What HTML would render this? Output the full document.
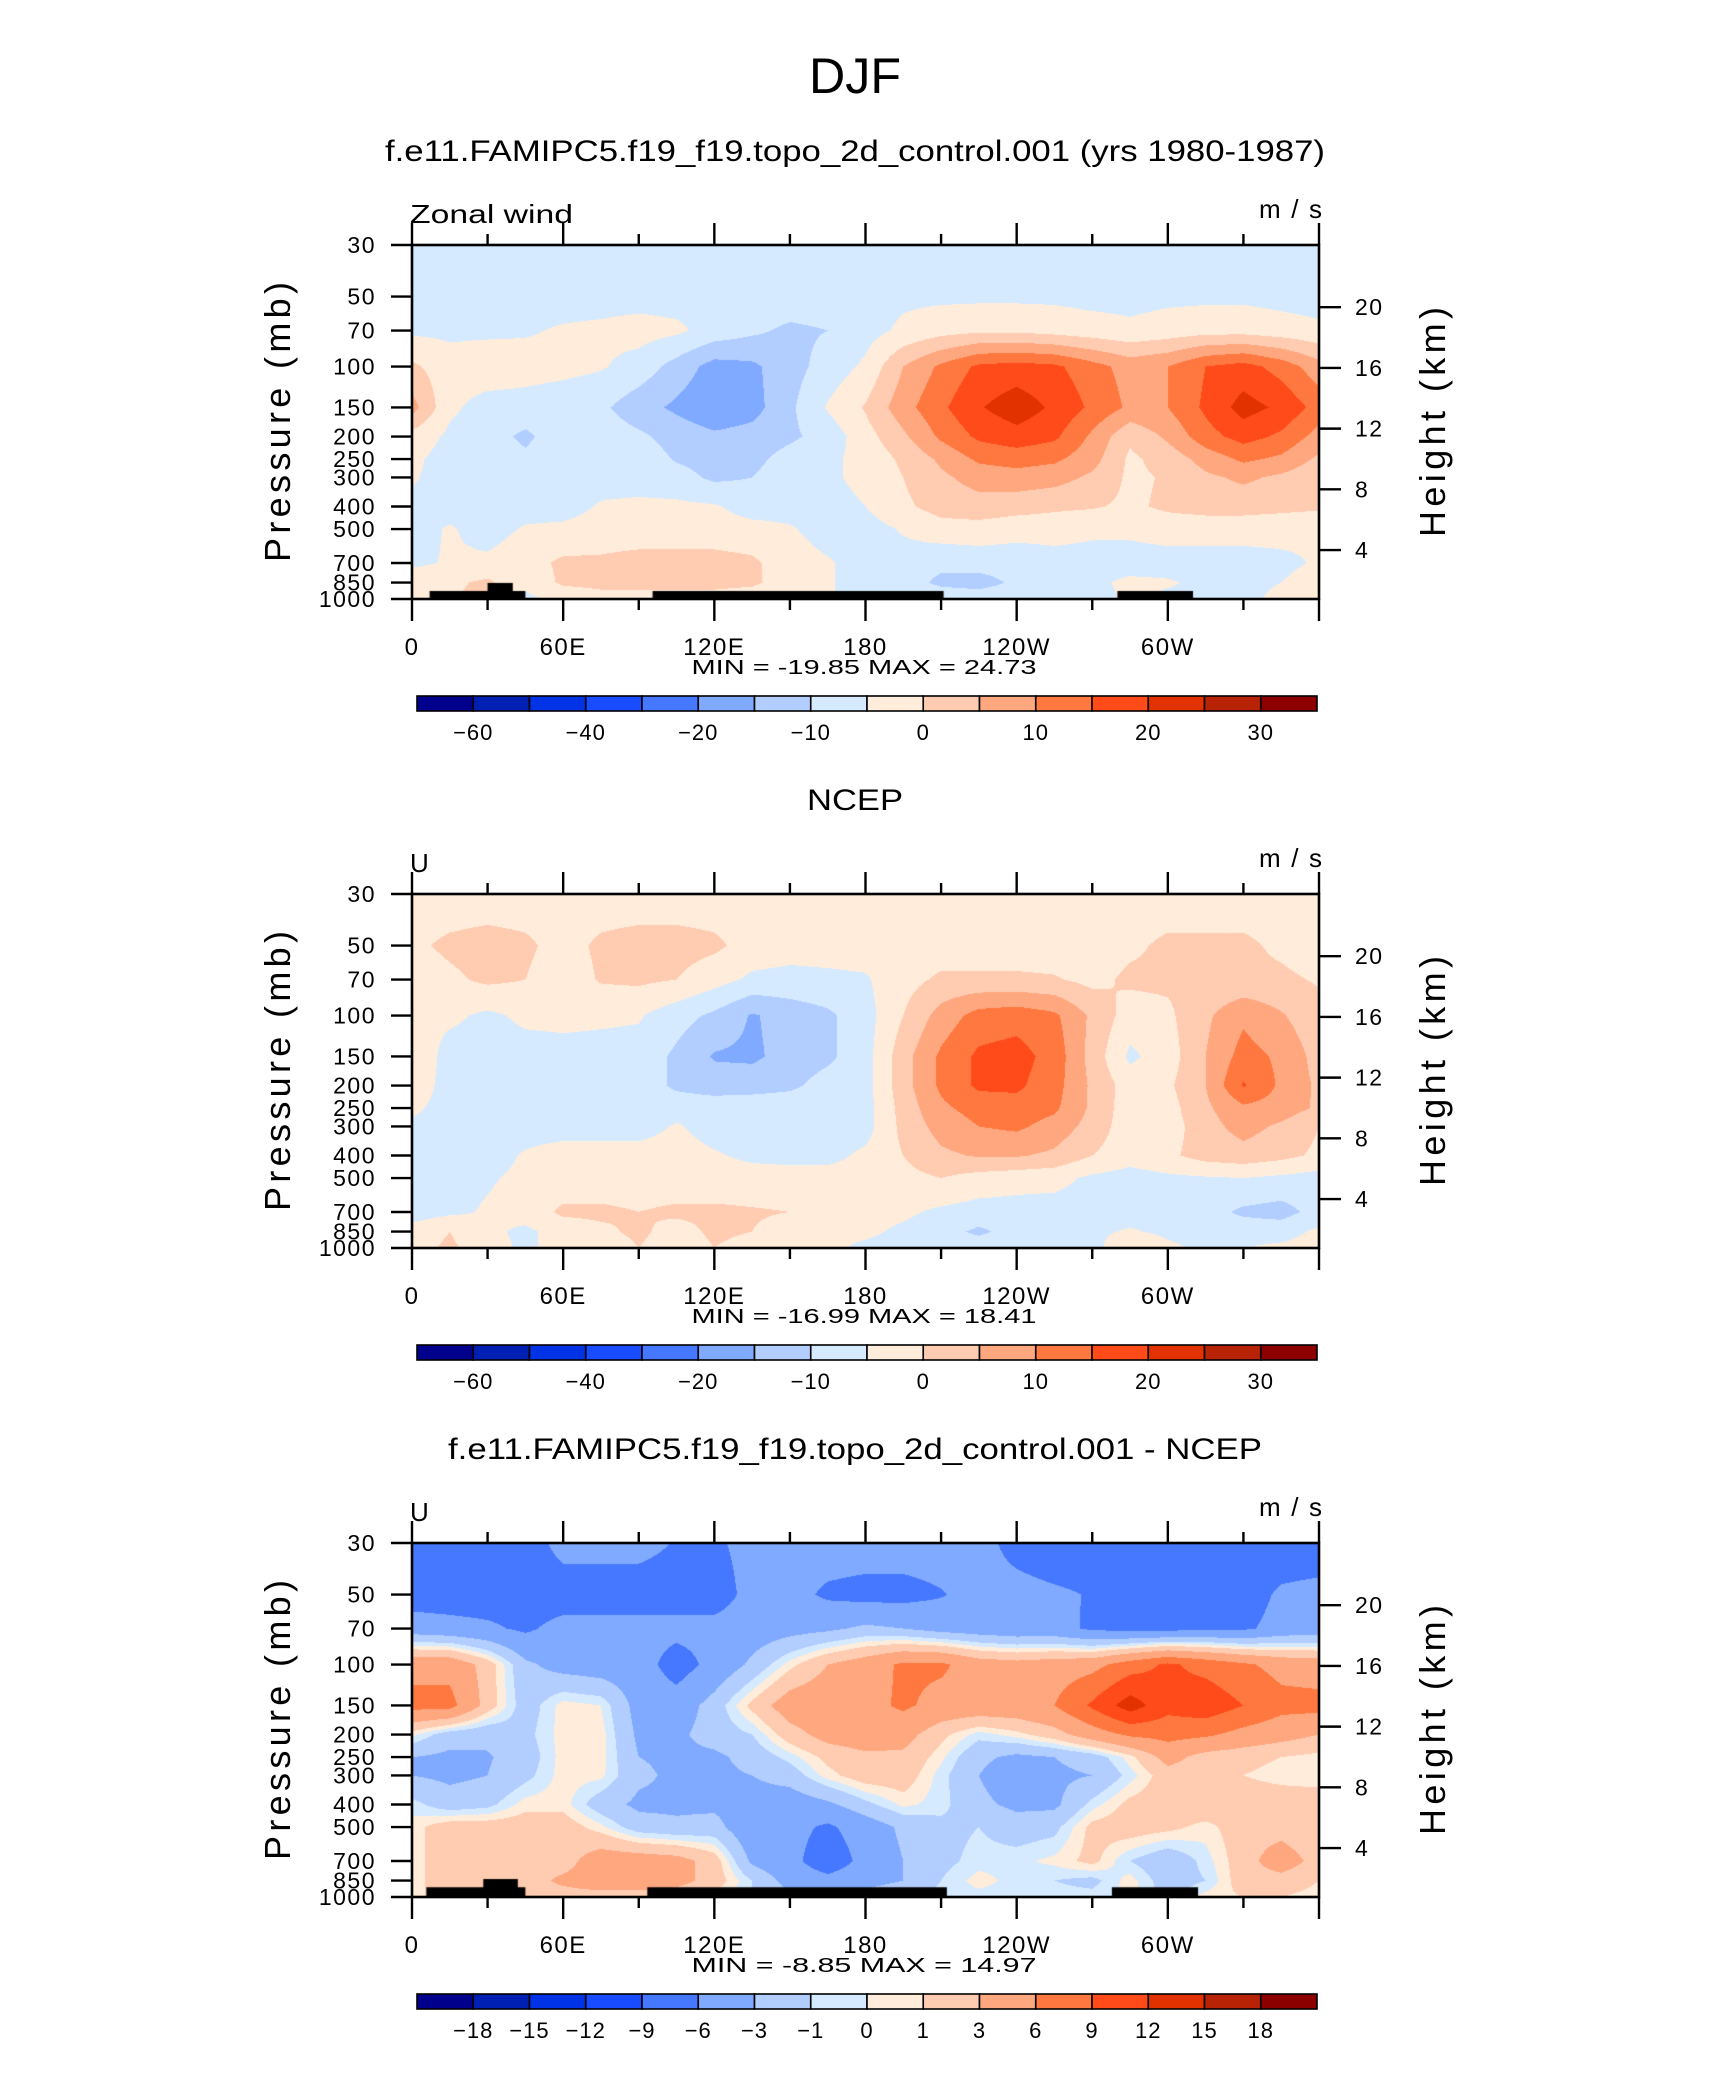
<!DOCTYPE html>
<html><head><meta charset="utf-8">
<style>
html,body{margin:0;padding:0;background:#fff;}
#root{position:relative;width:1710px;height:2074px;overflow:hidden;background:#fff;}
canvas{position:absolute;}
svg{position:absolute;left:0;top:0;}
text{font-family:"Liberation Sans",sans-serif;fill:#000;}
</style></head>
<body>
<div id="root">
<canvas id="c1" width="907" height="354" style="left:412px;top:245px"></canvas>
<canvas id="c2" width="907" height="354" style="left:412px;top:894px"></canvas>
<canvas id="c3" width="907" height="354" style="left:412px;top:1543px"></canvas>
<svg id="ov" width="1710" height="2074" xmlns="http://www.w3.org/2000/svg"></svg>
</div>
<script>
// ---- data ----
const lons = [0,15,30,45,60,75,90,105,120,135,150,165,180,195,210,225,240,255,270,285,300,315,330,345,360];
const levels = [30,50,70,100,150,200,250,300,400,500,700,850,1000];
const pTicks = [30,50,70,100,150,200,250,300,400,500,700,850,1000];
const zTicks = [4,8,12,16,20];
const lonTickLabels = ["0","60E","120E","180","120W","60W"];
const lonTickValues = [0,60,120,180,240,300];
const palette = ["#00008C","#0020B4","#0032E6","#194BFF","#4678FF","#80AAFF","#B2CDFF","#D6EAFF","#FFECDA","#FFCCB2","#FFA880","#FF7840","#FF4B19","#E13200","#B92305","#8C0000"];
const levelsAbs = [-60,-50,-40,-30,-20,-15,-10,-5,0,5,10,15,20,25,30];
const labelsAbs = ["-60","","-40","","-20","","-10","","0","","10","","20","","30"];
const levelsDiff = [-18,-15,-12,-9,-6,-3,-1,0,1,3,6,9,12,15,18];
const labelsDiff = ["-18","-15","-12","-9","-6","-3","-1","0","1","3","6","9","12","15","18"];

const uModel = [
[-2,-2,-2,-2,-2,-2,-2,-2,-2,-2,-2,-2,-2,-2,-2,-2,-2,-2,-2,-2,-2,-2,-2,-2,-2],
[-2,-2,-2,-2,-2,-2,-2,-2,-2,-2,-2,-2,-2,-1,-1,-1,-1,-1,-1.5,-1.5,-1,-1,-1,-1.5,-2],
[-1,-1,-1,-0.5,0.5,1,2,1,-2,-4,-6,-5,-2,1,3,4,4,3,2,1,2,3,3,2,1],
[6,2,3,2,1.5,0.5,-2,-7,-12,-11,-7,-3,1,10,16,21,22,21,17,13,15,20,22,18,12],
[12,1,-2,-2,-3,-4,-8,-11,-14,-12,-6,0.5,5.5,13,19,24.5,28,24,19,14,15,21,27,24,18],
[3,-1,-3,-6,-2,-2,-4,-7,-9,-8,-6,-3,3,9,16,21,23,21,14,6,11,18,22,19,13],
[1,-2,-2,-4,-2,-2,-2,-5.5,-7,-6.5,-3,-1,1.5,6,11,16,17,16,12,4,7,12,16,14,9],
[0.5,-2,-2,-2,-2,-2,-2,-3,-6,-5,-2,-1,1.5,5,9,12,13,12,9,4,5.5,9,11,9,6],
[-1,-2,-2,-2,-2,0.5,1,1,0.5,-2,-2,-2,0,4,7,8,7,6,5.5,4,6,7,7,6.5,6],
[-2,0.5,-2,0.5,1,2,2,2,2,1.5,0.5,-2,-2,0.5,3,3,2,2,1,1,2,2,2,1.5,0.5],
[-1,0.5,1,3,6,6,7,7,7,6,2,0.5,-2,-2,-4,-3,-3,-2,-2,-2,-2,-2,-2,-1,0.5],
[3,4,6,1,6,6.5,6.5,6.5,6.5,6,2,0.5,-2,-3,-6,-7,-4,-2,-1,1,0.5,-1,-1,0,2],
[3,5,6,-1,1,3,3,3,3,2,1,0.5,-2,-2,-2,-2,-2,-2,-2,1,-1,-1,-1,1,3]
];
const uNcep = [
[2,2,2,2,2,2,2,2,2,2,2,2,2,2,2,2,2,2,2,2,2,2,2,2,2],
[4,6,7,6,3,6,7,7,6,3,2,2,2,2,2,2,2,2,2,4,6,6,6,4,2],
[2,4,6,5,2,5.5,6,5,2,-1,-1.5,-1,-0.5,3,6,6,6,5.5,3.5,6,6,6,6,6,4.5],
[1,1,-1,1,1.5,1,0.5,-3,-6,-10.5,-8,-6,-2,5,12,17,18,16,9,2.5,4,9,14,10.5,6.5],
[4,-2,-2,-2,-2,-2,-2,-6,-10.5,-11,-8,-6,-2,8,16,21,22,18,8,-1,2.5,10,17,14,8],
[3,-2,-2,-2,-2,-2,-2,-6,-7.5,-7,-6,-3,-2,8,16,21,21,17,9,2.5,4,10,20.5,14,9],
[1,-2,-2,-2,-2,-2,-2,-2,-2,-2,-2,-2,-2,7,14,17,18,16,9,2,3,9,14,13,9],
[-1,-2,-2,-2,-2,-2,-2,0.5,-2,-2,-2,-2,-2,6.5,12,15,16,13,8,2,2.5,8,12,9,5],
[-1,-2,-2,0.5,2,2,2,2,0.5,-1,-1.5,-1.5,1,5,9,10.5,10.5,9,5,2,4,7,8,6.5,4],
[-2,-1.5,-0.5,1,2,2,2,2,2,2,2,2,2,3.5,5,3,2,1.5,-1,-2,-1,-0.5,0,-1,-2],
[-2.5,-1,0.5,2,6,6,5,6,6,5.5,5,3,2,1,-1,-2,-2,-2,-2,-2,-2,-3,-6,-7,-3],
[2,5,1,-1,2,4,6,3,6,5,3,1,1,-1,-3,-6,-3,-2,-1,0.5,-1,-2,-2,-2,1],
[3,6,2,-1,2,2,5,2,5,3,2,1,-1,-2,-2,-2,-2,-2,-2,5,1,-1,0,1,2]
];
const uDiff = [
[-8,-7,-8,-7.5,-5,-5,-5,-6.2,-6.5,-5,-5,-4.5,-4.5,-4.5,-4.5,-5,-7,-8,-8,-8,-7.5,-7.5,-8,-8,-8],
[-7.5,-7.5,-7.5,-7.5,-7.5,-7.5,-7.5,-7.5,-7.5,-5,-5,-6.5,-7,-7,-6.2,-5,-5,-5.5,-6.2,-8,-8,-8,-7.5,-5.5,-5],
[-4.5,-5,-5.5,-6.5,-5,-5,-5,-5,-5,-4.5,-4,-3.5,-2.5,-3,-4,-4.5,-5,-5,-6.5,-7,-7,-6.5,-6.5,-5,-4.5],
[5,5,2,-2.5,-4,-4.5,-4.5,-7.5,-5,-2.5,0.5,3,4.5,6.5,6.5,4.5,4,4.5,5,7.5,9.5,8,6.5,5,4.5],
[7,7,2,-2,0.5,0,-4,-4.5,-2,1.5,4.5,5,5,6.5,5,5,5,6,9.5,13.5,10,11,9,7,7],
[0.3,-2,-2.5,-1.5,0.5,0.5,-3.5,-3.5,-2,-1,2,4,4.5,4,1.5,-0.5,0.5,2,4.5,6.5,7,6.5,5,4,3],
[-3,-3.5,-3.2,-2,0.5,0.5,-3,-3.5,-3.5,-2.2,-0.5,1.5,2.5,2.5,0.3,-2.5,-3.5,-3,-2,0.5,4,2,1.5,1,0.5],
[-3,-3.5,-3,-1.5,0.5,0.3,-2.5,-3.5,-3.5,-3,-2,0.5,2,2,-0.5,-3,-4.5,-3.5,-3,-0.5,2,1.5,1,0.5,0.3],
[-0.5,-2,-1.5,0.5,0.5,-2,-3.5,-3.5,-3.5,-4,-4.5,-3.5,-1.5,0.3,-0.5,-2.5,-3.5,-3.5,-0.5,1.5,2,2.5,2,2,2],
[0.5,2,2,2,2,0.3,-2,-2.5,-2.2,-5,-5,-6.5,-4.5,-2.5,-1.5,-1,-2,-1.5,1.5,2,1.5,0.5,2,2,1],
[0.5,2,2,2,2,4.5,4.5,4,2,-3.5,-5,-8,-5,-3,-1.5,-0.5,-0.3,0.3,1.5,-1,-2.5,-0.5,2,4.5,2],
[0.5,2,2,2,3.5,4.5,4.5,4,2,-1,-4,-5,-4,-3,-1,0.5,-0.5,-1,-1.5,0.5,-2,-1,2,2,1],
[0.5,2,2,2,2,2,2,1.5,0.5,-1,-2.5,-3,-2,-1,-0.5,-0.5,-0.5,-0.5,-0.5,0.5,-1.5,0.5,1,1,0.5]
];
const topoModel = [[7,45,924],[30,40,853],[95.5,211,924],[280,310,924]];
const topoDiff = [[5.7,45,908],[28.3,42,837],[93.4,212.3,908],[277.8,312,908]];

// ---- geometry ----
const PL = 412, PW = 907, PH = 354;
const panelTops = [245, 894, 1543];
const LNP = Math.log(1000/30);
function yOfP(p){ return PH*Math.log(p/30)/LNP; }
function xOfLon(l){ return PW*l/360; }
function pOfZ(z){ return 1124*Math.exp(-z/6.65); }

function sample(grid, lon, lp){
  let i = Math.min(Math.floor(lon/15), lons.length-2);
  let fx = (lon - lons[i]) / 15;
  let j = 0;
  while (j < levels.length-2 && lp > Math.log(levels[j+1])) j++;
  const a = Math.log(levels[j]), b = Math.log(levels[j+1]);
  let fy = (lp - a)/(b - a);
  fy = Math.max(0, Math.min(1, fy));
  const v00 = grid[j][i], v01 = grid[j][i+1], v10 = grid[j+1][i], v11 = grid[j+1][i+1];
  return (v00*(1-fx)+v01*fx)*(1-fy) + (v10*(1-fx)+v11*fx)*fy;
}
function hex(c){ return [parseInt(c.substr(1,2),16),parseInt(c.substr(3,2),16),parseInt(c.substr(5,2),16)]; }
const rgb = palette.map(hex);
function colorIdx(v, lev){ let k=0; while(k<lev.length && v>=lev[k]) k++; return k; }

function drawField(id, grid, lev, shift, topo){
  const cv = document.getElementById(id), ctx = cv.getContext('2d');
  const img = ctx.createImageData(PW, PH);
  for (let y=0; y<PH; y++){
    const lp = Math.log(30) + (y+0.5)/PH*LNP;
    for (let x=0; x<PW; x++){
      const lon = (x+0.5)/PW*360;
      let ci = colorIdx(sample(grid, lon, lp), lev) + shift;
      ci = Math.max(0, Math.min(15, ci));
      const c = rgb[ci];
      const o = (y*PW+x)*4;
      img.data[o]=c[0]; img.data[o+1]=c[1]; img.data[o+2]=c[2]; img.data[o+3]=255;
    }
  }
  ctx.putImageData(img,0,0);
  if (topo){
    ctx.fillStyle = '#000';
    topo.forEach(t => {
      const y0 = yOfP(t[2]);
      ctx.fillRect(xOfLon(t[0]), y0, xOfLon(t[1])-xOfLon(t[0]), PH-y0);
    });
  }
}
drawField('c1', uModel, levelsAbs, -1, topoModel);
drawField('c2', uNcep, levelsAbs, -1, null);
drawField('c3', uDiff, levelsDiff, 0, topoDiff);

// ---- overlay ----
const NS = 'http://www.w3.org/2000/svg';
const ov = document.getElementById('ov');
function mk(tag, attrs, name){
  const el = document.createElementNS(NS, tag);
  for (const k in attrs) el.setAttribute(k, attrs[k]);
  
  
  ov.appendChild(el);
  return el;
}
function txt(x, y, s, size, anchor, name, extra){
  const el = document.createElementNS(NS, 'text');
  el.setAttribute('x', x); el.setAttribute('y', y);
  el.setAttribute('font-size', size); el.setAttribute('text-anchor', anchor);
  if (extra) for (const k in extra) el.setAttribute(k, extra[k]);
  el.textContent = s;
  
  
  ov.appendChild(el);
  return el;
}

txt(855, 93, 'DJF', 50, 'middle', 'figure-title', {textLength: 92, lengthAdjust: 'spacingAndGlyphs'});
const titles = ['f.e11.FAMIPC5.f19_f19.topo_2d_control.001 (yrs 1980-1987)', 'NCEP', 'f.e11.FAMIPC5.f19_f19.topo_2d_control.001 - NCEP'];
const titleW = [940, 96, 814];
const leftLabels = ['Zonal wind', 'U', 'U'];
const minmax = [['-19.85','24.73'], ['-16.99','18.41'], ['-8.85','14.97']];

for (let k=0; k<3; k++){
  const T = panelTops[k];
  txt(855, T-84, titles[k], 30, 'middle', 'panel-title', {textLength: titleW[k], lengthAdjust: 'spacingAndGlyphs'});
  txt(PL-2, T-22, leftLabels[k], 26, 'start', 'variable-label', leftLabels[k]==='U' ? {} : {textLength: 163, lengthAdjust: 'spacingAndGlyphs'});
  txt(PL+PW+3, T-27, 'm/s', 26, 'end', 'units-label', {textLength: 63, lengthAdjust: 'spacing'});
  mk('rect', {x: PL, y: T, width: PW, height: PH, fill: 'none', stroke: '#000', 'stroke-width': 2.6}, 'plot-frame');
  for (let l=0; l<=360; l+=30){
    const x = PL + xOfLon(l);
    const len = (l % 60 === 0) ? 22 : 11;
    mk('line', {x1: x, y1: T, x2: x, y2: T-len, stroke: '#000', 'stroke-width': 2.4}, 'top-tick');
    mk('line', {x1: x, y1: T+PH, x2: x, y2: T+PH+len, stroke: '#000', 'stroke-width': 2.4}, 'bottom-tick');
  }
  for (let i=0; i<lonTickValues.length; i++){
    txt(PL + xOfLon(lonTickValues[i]), T+PH+56, lonTickLabels[i], 24, 'middle', 'x-tick-label', {'letter-spacing': 1.5});
  }
  for (let i=0; i<pTicks.length; i++){
    const y = T + yOfP(pTicks[i]);
    mk('line', {x1: PL-21, y1: y, x2: PL, y2: y, stroke: '#000', 'stroke-width': 2.4}, 'y-tick');
    txt(376, y+8, String(pTicks[i]), 23, 'end', 'y-tick-label', {'letter-spacing': 1.5});
  }
  for (let i=0; i<zTicks.length; i++){
    const y = T + yOfP(pOfZ(zTicks[i]));
    mk('line', {x1: PL+PW, y1: y, x2: PL+PW+22, y2: y, stroke: '#000', 'stroke-width': 2.4}, 'right-tick');
    txt(1355, y+8, String(zTicks[i]), 23, 'start', 'right-tick-label', {'letter-spacing': 1.5});
  }
  txt(0, 0, 'Pressure (mb)', 36, 'middle', 'y-axis-title', {transform: 'translate(290,' + (T+177) + ') rotate(-90)', textLength: 280, lengthAdjust: 'spacing'});
  txt(0, 0, 'Height (km)', 36, 'middle', 'right-axis-title', {transform: 'translate(1445,' + (T+177) + ') rotate(-90)', textLength: 230, lengthAdjust: 'spacing'});
  txt(864, T+429, 'MIN =  ' + minmax[k][0] + '   MAX =   ' + minmax[k][1], 20, 'middle', 'min-max-label', {'xml:space': 'preserve', textLength: 345, lengthAdjust: 'spacingAndGlyphs'});
  const cy = T + 451, cx0 = 417, cw = (1317-417)/16;
  const lev = k < 2 ? levelsAbs : levelsDiff;
  const labs = k < 2 ? labelsAbs : labelsDiff;
  for (let b=0; b<16; b++){
    mk('rect', {x: cx0 + b*cw, y: cy, width: cw, height: 15, fill: palette[b], stroke: '#000', 'stroke-width': 1.6}, 'colorbar-box');
  }
  for (let b=0; b<lev.length; b++){
    if (labs[b] !== '') txt(cx0 + (b+1)*cw, cy+44, labs[b].replace('-', '\u2212'), 22, 'middle', 'colorbar-label', {'letter-spacing': 1});
  }
}
</script>
</body></html>
